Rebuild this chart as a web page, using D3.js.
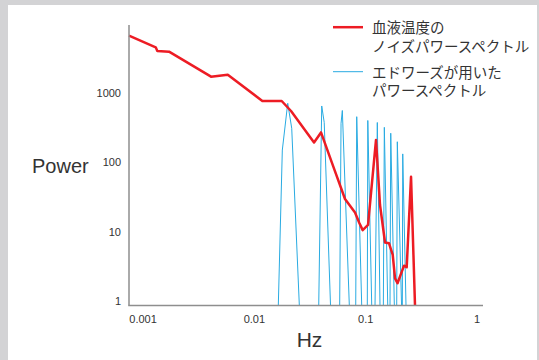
<!DOCTYPE html>
<html>
<head>
<meta charset="utf-8">
<script src="https://cdn.jsdelivr.net/npm/d3@7"></script>
<style>
  html, body { margin: 0; padding: 0; background: #d3d3d5; }
  svg { display: block; }
  text { font-family: "Liberation Sans", Arial, sans-serif; fill: #333; }
  .jp { font-family: "Noto Sans CJK JP", sans-serif; }
</style>
</head>
<body>
<script>
// blood temperature noise spectrum (red)
const redHz = [0.000748, 0.0013, 0.001344, 0.001712, 0.00408, 0.00577, 0.0118, 0.0176,
  0.02135, 0.03436, 0.0397, 0.0512, 0.0652, 0.0802, 0.0877, 0.094, 0.105, 0.1238,
  0.1345, 0.1492, 0.1621, 0.175, 0.1835, 0.1932, 0.221, 0.2336, 0.2555, 0.2774];
const redPower = [6715, 4570, 4045, 3950, 1723, 1841, 769, 769,
  552, 194, 271, 87, 29.8, 19.0, 13.4, 10.6, 12.6, 211,
  24.4, 7.03, 6.85, 4.65, 2.14, 1.82, 3.26, 3.09, 62.4, 0.87];

// Edwards spectrum (blue), values below 1 sit on the axis
const blueHz = [0.01641, 0.01783, 0.01994, 0.02166, 0.02535,
  0.03786, 0.04028, 0.04242, 0.04832,
  0.0584, 0.06006, 0.06169, 0.07129,
  0.0814, 0.0831, 0.0921,
  0.1034, 0.1045, 0.1133,
  0.1213, 0.1272, 0.1345,
  0.1441, 0.1471, 0.1578,
  0.1654, 0.1679, 0.1809,
  0.19, 0.1924, 0.21,
  0.2134, 0.2152, 0.2303];
const bluePower = [0.8, 151, 713, 311, 0.8,
  0.8, 652, 377, 0.8,
  0.8, 367, 561, 0.8,
  0.8, 457, 0.8,
  0.8, 403, 0.8,
  0.8, 377, 0.8,
  0.8, 321, 0.8,
  0.8, 264, 0.8,
  0.8, 199, 0.8,
  0.8, 133, 0.8];

const xTicks = [0.001, 0.01, 0.1, 1];
const xTickLabels = ["0.001", "0.01", "0.1", "1"];
const yTicks = [1, 10, 100, 1000];
const yTickLabels = ["1", "10", "100", "1000"];

const legendLabels = [
  ["血液温度の", "ノイズパワースペクトル"],
  ["エドワーズが用いた", "パワースペクトル"]
];
const legendColors = ["#ed1c24", "#29abe2"];

const width = 539, height = 360;

const svg = d3.select("body")
    .append("svg")
      .attr("width", width)
      .attr("height", height);

// white panel
svg.append("rect")
    .attr("x", 8)
    .attr("y", 5)
    .attr("width", 529)
    .attr("height", 355)
    .attr("fill", "#fff");

const xScale = d3.scaleLog()
    .domain([0.000748, 1.132])
    .range([129, 483]);

const yScale = d3.scaleLog()
    .domain([0.87, 9572])
    .range([305.5, 25])
    .clamp(true);

// blue line first, axis covers its baseline
const blueLine = d3.line()
    .x(i => xScale(blueHz[i]))
    .y(i => yScale(bluePower[i]));

svg.append("path")
    .attr("d", blueLine(d3.range(blueHz.length)))
    .attr("fill", "none")
    .attr("stroke", legendColors[1])
    .attr("stroke-width", 1);

const redLine = d3.line()
    .x(i => xScale(redHz[i]))
    .y(i => yScale(redPower[i]));

svg.append("path")
    .attr("d", redLine(d3.range(redHz.length)))
    .attr("fill", "none")
    .attr("stroke", legendColors[0])
    .attr("stroke-width", 2.5)
    .attr("stroke-linejoin", "round");

// axes (lines only, no tick marks)
const xRange = xScale.range(), yRange = yScale.range();
svg.append("line")
    .attr("x1", xRange[0]).attr("x2", xRange[0])
    .attr("y1", yRange[1]).attr("y2", yRange[0])
    .attr("stroke", "#8e8e8e").attr("stroke-width", 1.5);
svg.append("line")
    .attr("x1", xRange[0] - 0.75).attr("x2", xRange[1])
    .attr("y1", yRange[0]).attr("y2", yRange[0])
    .attr("stroke", "#8e8e8e").attr("stroke-width", 1.5);

svg.append("g")
    .selectAll("text")
    .data(xTicks)
    .enter()
    .append("text")
      .attr("x", d => xScale(d))
      .attr("y", 322.5)
      .attr("text-anchor", "middle")
      .attr("font-size", 11)
      .text((d, i) => xTickLabels[i]);

svg.append("g")
    .selectAll("text")
    .data(yTicks)
    .enter()
    .append("text")
      .attr("x", 121)
      .attr("y", d => yScale(d))
      .attr("dy", "0.36em")
      .attr("text-anchor", "end")
      .attr("font-size", 11)
      .text((d, i) => yTickLabels[i]);

svg.append("text")
    .attr("x", 32)
    .attr("y", 173)
    .attr("font-size", 20)
    .text("Power");

svg.append("text")
    .attr("x", 309.5)
    .attr("y", 347)
    .attr("text-anchor", "middle")
    .attr("font-size", 21)
    .text("Hz");

// legend
const legend = svg.append("g");
legendLabels.forEach((lines, i) => {
  const y0 = i === 0 ? 28 : 72.5;
  legend.append("line")
      .attr("x1", 333).attr("x2", 363)
      .attr("y1", y0 - 0.8).attr("y2", y0 - 0.8)
      .attr("stroke", legendColors[i])
      .attr("stroke-width", i === 0 ? 2.5 : 1);
  lines.forEach((t, j) => {
    legend.append("text")
        .attr("class", "jp")
        .attr("x", 372)
        .attr("y", y0 + j * 18.6)
        .attr("dy", "0.36em")
        .attr("font-size", 14.5)
        .text(t);
  });
});
</script>
</body>
</html>
